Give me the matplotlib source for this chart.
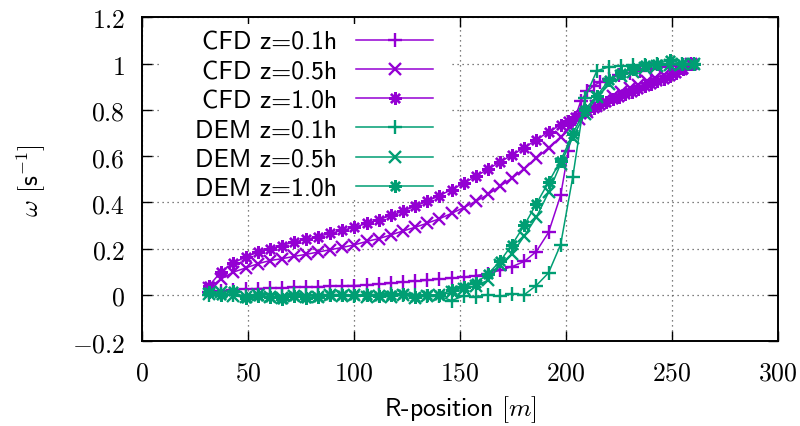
import matplotlib
matplotlib.use("Agg")
import matplotlib.pyplot as plt
from matplotlib.patches import Rectangle

plt.rcParams['mathtext.fontset'] = 'cm'
plt.rcParams['axes.unicode_minus'] = True

# ---------------- data ----------------
x_grid = [31.5, 37.2, 42.9, 48.7, 54.4, 60.1, 65.8, 71.5, 77.3, 83.0, 88.7, 94.4,
          100.1, 105.9, 111.6, 117.3, 123.0, 128.7, 134.5, 140.2, 145.9, 151.6,
          157.3, 163.1, 168.8, 174.5, 180.2, 185.9, 191.7, 197.4, 203.1, 208.8,
          214.5, 220.3, 226.0, 231.7, 237.4, 243.1, 248.9, 254.6, 260.3]

cfd01_x = [31.5, 37.2, 42.9, 48.7, 54.4, 60.1, 65.8, 71.5, 77.3, 83.0, 88.7, 94.4,
           100.1, 105.9, 111.6, 117.3, 123.0, 128.7, 134.5, 140.2, 145.9, 151.6,
           157.3, 163.1, 168.8, 174.5, 180.2, 185.9, 191.7, 197.4, 201.0, 204.0,
           207.0, 210.0, 213.0, 216.0, 220.0, 225.0, 230.0, 235.0, 240.0, 245.0,
           250.0, 255.0, 259.0]
cfd01_y = [0.014, 0.018, 0.022, 0.025, 0.027, 0.029, 0.030, 0.032, 0.033, 0.035, 0.037, 0.039,
           0.040, 0.043, 0.046, 0.050, 0.055, 0.059, 0.063, 0.068, 0.072, 0.077,
           0.083, 0.092, 0.106, 0.122, 0.144, 0.187, 0.270, 0.430, 0.620, 0.760,
           0.840, 0.880, 0.905, 0.920, 0.935, 0.950, 0.960, 0.970, 0.978, 0.985,
           0.990, 0.995, 1.000]

cfd05_x = [31.5, 37.2, 42.9, 48.7, 54.4, 60.1, 65.8, 71.5, 77.3, 83.0, 88.7, 94.4,
           100.1, 105.9, 111.6, 117.3, 123.0, 128.7, 134.5, 140.2, 145.9, 151.6,
           157.3, 163.1, 168.8, 174.5, 180.2, 185.9, 191.7, 197.4, 202.0, 206.0,
           210.0, 214.0, 218.0, 222.0, 226.0, 230.0, 234.0, 238.0, 242.0, 246.0,
           250.0, 254.0, 259.0]
cfd05_y = [0.030, 0.069, 0.098, 0.116, 0.134, 0.148, 0.156, 0.166, 0.175, 0.185, 0.195, 0.205,
           0.216, 0.231, 0.243, 0.259, 0.276, 0.292, 0.310, 0.329, 0.352, 0.377,
           0.404, 0.434, 0.470, 0.505, 0.545, 0.590, 0.636, 0.682, 0.724, 0.760,
           0.790, 0.815, 0.838, 0.858, 0.876, 0.893, 0.908, 0.923, 0.937, 0.951,
           0.964, 0.978, 0.998]

cfd10_x = [31.5, 37.2, 42.9, 48.7, 54.4, 60.1, 65.8, 71.5, 77.3, 83.0, 88.7, 94.4,
           100.1, 105.9, 111.6, 117.3, 123.0, 128.7, 134.5, 140.2, 145.9, 151.6,
           157.3, 163.1, 168.8, 174.5, 180.2, 185.9, 191.7, 197.4, 201.0, 204.0,
           207.0, 210.0, 213.0, 216.0, 219.0, 222.0, 225.0, 228.0, 231.0, 234.0,
           237.0, 240.0, 243.0, 246.0, 249.0, 252.0, 255.0, 259.0]
cfd10_y = [0.040, 0.100, 0.138, 0.163, 0.184, 0.199, 0.213, 0.228, 0.240, 0.252, 0.266, 0.279,
           0.292, 0.309, 0.325, 0.343, 0.362, 0.383, 0.405, 0.429, 0.455, 0.483,
           0.512, 0.544, 0.575, 0.605, 0.637, 0.670, 0.705, 0.735, 0.753, 0.767,
           0.781, 0.795, 0.808, 0.821, 0.833, 0.845, 0.857, 0.868, 0.879, 0.890,
           0.901, 0.912, 0.923, 0.934, 0.946, 0.960, 0.975, 0.998]

dem01_y = [0.000, 0.005, 0.000, -0.005, 0.000, 0.003, -0.004, 0.002, -0.003, 0.000, -0.002, 0.001,
           -0.004, 0.000, -0.003, 0.002, -0.002, 0.000, -0.004, -0.006, -0.025, -0.005,
           -0.008, 0.000, -0.007, 0.004, 0.000, 0.040, 0.095, 0.217, 0.508, 0.851,
           0.969, 0.986, 0.990, 0.993, 0.995, 0.997, 1.000, 1.000, 1.000]
dem05_y = [0.005, 0.010, -0.005, -0.010, 0.000, -0.008, -0.012, -0.005, -0.010, -0.008, -0.003, -0.005,
           -0.003, -0.008, -0.005, -0.010, 0.000, -0.012, -0.005, 0.000, 0.010, 0.026,
           0.040, 0.062, 0.127, 0.177, 0.254, 0.335, 0.443, 0.566, 0.680, 0.780,
           0.855, 0.910, 0.945, 0.965, 0.980, 0.990, 0.995, 1.000, 1.000]
dem10_y = [0.010, 0.000, 0.015, -0.014, -0.006, -0.010, -0.017, -0.006, -0.014, -0.010, -0.003, -0.003,
           -0.003, -0.003, -0.007, -0.003, 0.004, -0.010, -0.003, 0.000, 0.020, 0.035,
           0.050, 0.090, 0.145, 0.217, 0.300, 0.393, 0.487, 0.580, 0.695, 0.800,
           0.861, 0.930, 0.959, 0.976, 0.994, 1.000, 1.015, 1.000, 1.000]

labels = ["CFD z=0.1h", "CFD z=0.5h", "CFD z=1.0h", "DEM z=0.1h", "DEM z=0.5h", "DEM z=1.0h"]
x_ticks = [0, 50, 100, 150, 200, 250, 300]
y_ticks = [-0.2, 0, 0.2, 0.4, 0.6, 0.8, 1, 1.2]
y_ticklabels = ["-0.2", "0", "0.2", "0.4", "0.6", "0.8", "1", "1.2"]

PURPLE = "#9400D3"
GREEN = "#009E73"
ASTER = (8, 2, 0)

fig = plt.figure(figsize=(8.0, 4.27), dpi=100)
ax = fig.add_axes([0.178, 0.199, 0.7945, 0.758])

series = [
    (cfd01_x, cfd01_y, PURPLE, '+', 9.5),
    (cfd05_x, cfd05_y, PURPLE, 'x', 8.0),
    (cfd10_x, cfd10_y, PURPLE, ASTER, 9.0),
    (x_grid, dem01_y, GREEN, '+', 9.5),
    (x_grid, dem05_y, GREEN, 'x', 8.0),
    (x_grid, dem10_y, GREEN, ASTER, 9.0),
]
handles = []
for (xs, ys, c, m, ms), lab in zip(series, labels):
    h, = ax.plot(xs, ys, color=c, marker=m, label=lab, zorder=3,
                 lw=1.1, ms=ms, mew=1.7)
    handles.append(h)

ax.set_xlim(0, 300)
ax.set_ylim(-0.2, 1.2)
ax.set_xticks(x_ticks)
ax.set_xticklabels([f"${t}$" for t in x_ticks])
ax.set_yticks(y_ticks)
ax.set_yticklabels([f"${t}$" for t in y_ticklabels])
ax.tick_params(direction='in', length=7, width=1.0, top=True, right=True,
               labelsize=18.5)
ax.tick_params(axis='y', pad=12.5)
ax.tick_params(axis='x', pad=13)
for s in ax.spines.values():
    s.set_linewidth(1.4)

ax.set_axisbelow(True)
ax.grid(True, linestyle=(0, (1, 3)), color='#555555', linewidth=0.9)

# opaque legend area hiding the grid
ax.add_patch(Rectangle((0.0276, 0.44), 0.456, 0.541, transform=ax.transAxes,
                       facecolor='white', edgecolor='none', zorder=1))

leg = ax.legend(handles=handles, loc='upper right', bbox_to_anchor=(0.4575, 0.958),
                markerfirst=False, frameon=False, borderpad=0, borderaxespad=0,
                handlelength=3.0, handletextpad=0.73, labelspacing=0.24,
                prop={'family': ['cmss10', 'DejaVu Sans'], 'size': 18.5})
for t in leg.get_texts():
    t.set_ha('right')

ax.set_xlabel(r"R-position $[m]$", fontsize=18.5, family=['cmss10', 'DejaVu Sans'], labelpad=6)
ax.set_ylabel(r"$\omega$ $[\mathsf{s}^{-1}]$", fontsize=18.5, labelpad=17)

fig.savefig("out.png", dpi=100)
